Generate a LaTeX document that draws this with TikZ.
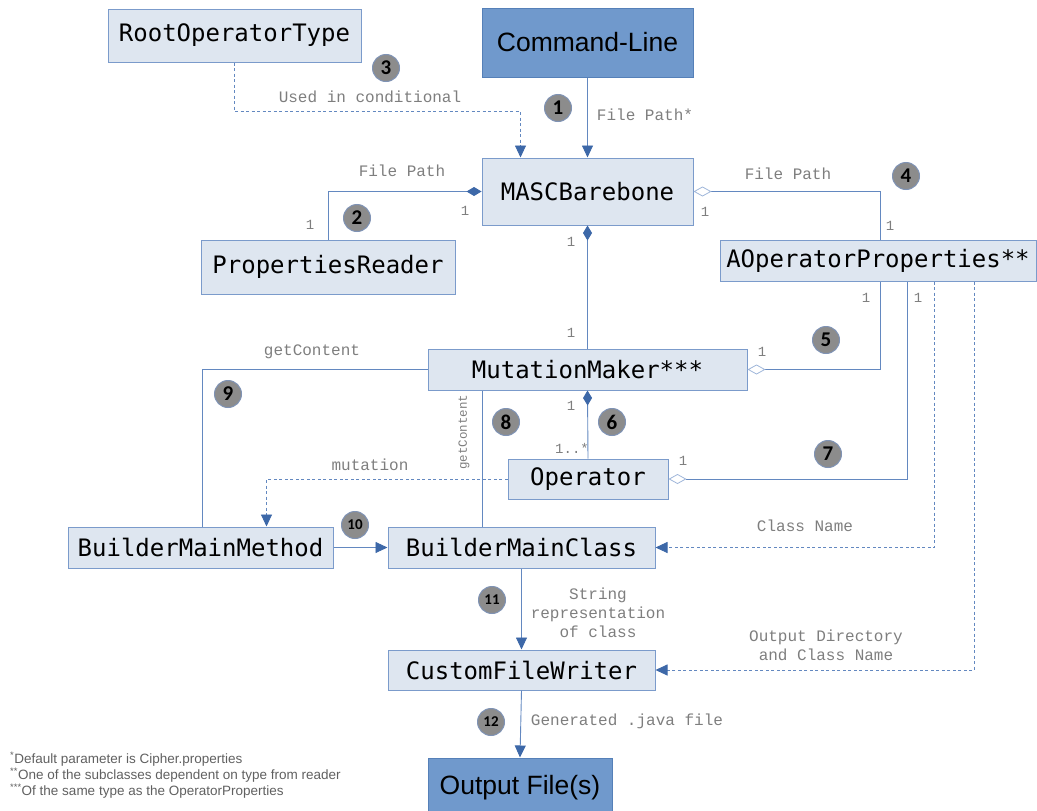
\documentclass[tikz,border=0pt]{standalone}
\usepackage{fontspec}
\setmainfont{Liberation Sans}
\newfontfamily\clsfont{DejaVu Sans Mono}
\newfontfamily\lblfont{Liberation Mono}
\newfontfamily\badgefont{Carlito}
\usetikzlibrary{arrows.meta}
\definecolor{boxfill}{HTML}{DEE6F0}
\definecolor{boxdraw}{HTML}{7B9BCB}
\definecolor{darkfill}{HTML}{7099CC}
\definecolor{darkdraw}{HTML}{5580B8}
\definecolor{linec}{HTML}{6388C0}
\definecolor{arrowc}{HTML}{3D68A8}
\definecolor{lblc}{HTML}{7E7E7E}
\definecolor{badgefill}{HTML}{8C8C8C}
\definecolor{badgedraw}{HTML}{7F93B5}
\definecolor{notec}{HTML}{606060}
\definecolor{odiac}{HTML}{9FB6DA}
\begin{document}
\begin{tikzpicture}[x=1pt,y=-1pt,
  cls/.style={draw=boxdraw, fill=boxfill, line width=1pt, inner sep=0pt, font=\clsfont\fontsize{24}{28}\selectfont, text=black},
  big/.style={draw=darkdraw, fill=darkfill, line width=1pt, inner sep=0pt, font=\fontsize{26.5}{30}\selectfont, text=black},
  conn/.style={draw=linec, line width=0.9pt},
  dotc/.style={conn, dash pattern=on 3pt off 2.5pt},
  arr/.style={-{Triangle[length=12pt,width=11pt,color=arrowc]}},
  fdia/.style={{Diamond[length=15pt,width=9pt,color=arrowc]}-},
  odia/.style={{Diamond[length=18pt,width=10pt,color=odiac,fill=white,line width=0.8pt]}-},
  lbl/.style={font=\lblfont\fontsize{16}{19}\selectfont, text=lblc, inner sep=0pt, align=center},
  mult/.style={font=\lblfont\fontsize{14}{16}\selectfont, text=lblc, inner sep=0pt},
  badge/.style={circle, fill=badgefill, draw=badgedraw, line width=1pt, minimum size=27pt, inner sep=0pt, font=\badgefont\bfseries\fontsize{21}{21}\selectfont, text=black},
  badgesm/.style={badge, font=\badgefont\bfseries\fontsize{15}{16}\selectfont},
  note/.style={font=\fontsize{13.5}{15}\selectfont, text=notec, inner sep=0pt, anchor=west}
]
\useasboundingbox (0,0) rectangle (1037,811);

% nodes
\node[cls, minimum width=253pt, minimum height=53pt] (rot) at (234.5,35.5) {RootOperatorType};
\node[big, minimum width=211pt, minimum height=69pt] (cl) at (587.5,42.5) {Command-Line};
\node[cls, minimum width=211pt, minimum height=67pt] (mb) at (587.5,191.5) {MASCBarebone};
\node[cls, minimum width=254pt, minimum height=54pt] (pr) at (328,267) {PropertiesReader};
\node[cls, minimum width=316pt, minimum height=41pt] (aop) at (878,260.5) {AOperatorProperties**};
\node[cls, minimum width=319pt, minimum height=41pt] (mm) at (587.5,369.5) {MutationMaker***};
\node[cls, minimum width=160pt, minimum height=40pt] (op) at (588,479) {Operator};
\node[cls, minimum width=265pt, minimum height=41pt] (bmm) at (200.5,547.5) {BuilderMainMethod};
\node[cls, minimum width=267pt, minimum height=41pt] (bmc) at (521.5,547.5) {BuilderMainClass};
\node[cls, minimum width=267pt, minimum height=40pt] (cfw) at (521.5,670) {CustomFileWriter};
\node[big, minimum width=184pt, minimum height=60pt] (out) at (520,788) {Output File(s)};

% connectors
\draw[conn, arr] (cl.south) -- (mb.north);
\draw[dotc, arr] (rot.south) -- ++(0,49) coordinate (c3) -| ([xshift=-67pt]mb.north);
\draw[conn, fdia] (mb.west) -| (pr.north);
\draw[conn, odia] (mb.east) -| ([xshift=2pt]aop.north);
\draw[conn, fdia] (mb.south) -- (mm.north);
\draw[conn, odia] (mm.east) -| ([xshift=2pt]aop.south);
\draw[conn, fdia] (mm.south) -- (op.north);
\draw[conn, odia] (op.east) -| ([xshift=29pt]aop.south);
\draw[conn] ([xshift=-105pt]mm.south) -- ([xshift=-105pt]mm.south |- bmc.north);
\draw[conn] (mm.west) -| ([xshift=1.5pt]bmm.north);
\draw[dotc, arr] (op.west) -| ([xshift=66pt]bmm.north);
\draw[conn, arr] (bmm.east) -- (bmc.west);
\draw[dotc, arr] ([xshift=56pt]aop.south) |- (bmc.east);
\draw[conn, arr] (bmc.south) -- (cfw.north);
\draw[dotc, arr] ([xshift=96pt]aop.south) |- (cfw.east);
\draw[conn, arr] (cfw.south) -- (out.north);

% labels
\node[lbl] (l1) at (645,115) {File Path*};
\node[lbl] (l3) at (370,97) {Used in conditional};
\node[lbl] (l2) at (402,171) {File Path};
\node[lbl] (l4) at (788,174) {File Path};
\node[lbl] (l9) at (312,352) {getContent};
\node[lbl, rotate=90, font=\lblfont\fontsize{12.5}{14}\selectfont] (l8) at (464,432) {getContent};
\node[lbl] (lmut) at (370,465) {mutation};
\node[lbl] (lcn) at (805,526) {Class Name};
\node[lbl] (l11) at (598,613) {String\\representation\\of class};
\node[lbl] (lod) at (826,645) {Output Directory\\and Class Name};
\node[lbl] (l12) at (627,721) {Generated .java file};

% multiplicities
\node[mult] (m2a) at (465,211) {1};
\node[mult] (m2b) at (310,225) {1};
\node[mult] (m4a) at (705,212) {1};
\node[mult] (m4b) at (890,226) {1};
\node[mult] (mma) at (571,242) {1};
\node[mult] (mmb) at (571,333) {1};
\node[mult] (m5a) at (762,352) {1};
\node[mult] (m5b) at (866,298) {1};
\node[mult] (m6a) at (571,406) {1};
\node[mult] (m6b) at (572,448) {1..*};
\node[mult] (m7a) at (683,461) {1};
\node[mult] (m7b) at (918,298) {1};

% badges
\node[badge] (b1) at (558,108) {1};
\node[badge] (b2) at (357,218) {2};
\node[badge] (b3) at (386,68) {3};
\node[badge] (b4) at (906,176) {4};
\node[badge] (b5) at (826,340) {5};
\node[badge] (b6) at (612,422) {6};
\node[badge] (b7) at (828,454) {7};
\node[badge] (b8) at (506,422) {8};
\node[badge] (b9) at (228,394) {9};
\node[badgesm] (b10) at (355,525) {10};
\node[badgesm] (b11) at (492,600) {11};
\node[badgesm] (b12) at (491,722) {12};

% footnotes
\node[note] (n1) at (10,759) {\textsuperscript{*}Default parameter is Cipher.properties};
\node[note] (n2) at (10,775) {\textsuperscript{**}One of the subclasses dependent on type from reader};
\node[note] (n3) at (10,791) {\textsuperscript{***}Of the same type as the OperatorProperties};
\end{tikzpicture}
\end{document}
